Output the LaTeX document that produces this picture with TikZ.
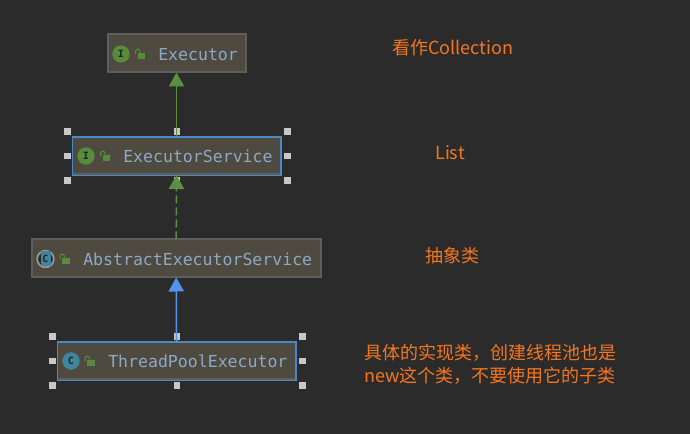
\documentclass[tikz,border=0pt]{standalone}
\usepackage{fontspec}
\setmonofont{DejaVu Sans Mono}
\newfontfamily\cjk{Noto Sans CJK SC}
\usetikzlibrary{arrows.meta,calc}
\definecolor{bgc}{HTML}{2B2B2B}
\definecolor{boxfill}{HTML}{4E4A40}
\definecolor{boxedge}{HTML}{5E5E5E}
\definecolor{selblue}{HTML}{4A88C7}
\definecolor{lineblue}{HTML}{5394EC}
\definecolor{grn}{HTML}{5C8F42}
\definecolor{icong}{HTML}{568C3C}
\definecolor{teal}{HTML}{3E86A0}
\definecolor{txt}{HTML}{8DA9C6}
\definecolor{orng}{HTML}{F5761F}
\definecolor{handle}{HTML}{C8C8C8}
\tikzset{
  x=0.75pt,y=-0.75pt,
  classbox/.style={draw=boxedge,line width=1.5pt,fill=boxfill,minimum height=28.5pt,inner sep=0pt,outer sep=0pt},
  selbox/.style={classbox,draw=selblue,line width=1pt},
  clabel/.style={text=txt,font=\ttfamily\fontsize{12.4}{15}\selectfont,anchor=base west,inner sep=0pt},
  icon/.style={circle,fill=#1,minimum size=13pt,inner sep=0pt,text=bgc!85!black,font=\ttfamily\bfseries\fontsize{7.5}{8}\selectfont},
  lockbody/.style={fill=icong,draw=none,minimum width=5.5pt,minimum height=5pt,inner sep=0pt},
  grip/.style={fill=handle,draw=none,minimum size=5pt,inner sep=0pt},
  note/.style={text=orng,font=\cjk\fontsize{13.5}{19}\selectfont,inner sep=0pt},
  inherit/.style={line width=1.15pt,-{Triangle[length=10.5pt,width=11.5pt]}},
}
\newcommand{\padlock}[2]{%
  \node[lockbody] (#1) at (#2) {};
  \draw[icong,line width=0.8pt] (#1.north west) ++(-2,2) -- ++(0,-3) arc[start angle=180,end angle=360,x radius=2.2,y radius=2.2] -- ++(0,1);
}
\newcommand{\grips}[2]{%
  \node[grip] (#1nw) at ($(#2.north west)+(-5,-5.5)$) {};
  \node[grip] (#1n)  at ($(#2.north)+(0.5,-5.5)$) {};
  \node[grip] (#1ne) at ($(#2.north east)+(6.5,-5.5)$) {};
  \node[grip] (#1w)  at ($(#2.west)+(-5,0)$) {};
  \node[grip] (#1e)  at ($(#2.east)+(6.5,0)$) {};
  \node[grip] (#1sw) at ($(#2.south west)+(-5,5.5)$) {};
  \node[grip] (#1s)  at ($(#2.south)+(0.5,5.5)$) {};
  \node[grip] (#1se) at ($(#2.south east)+(6.5,5.5)$) {};
}
\begin{document}
\begin{tikzpicture}
\useasboundingbox (0,0) rectangle (690,434);
\fill[bgc] (0,0) rectangle (690,434);

% boxes
\node[classbox,minimum width=103.5pt] (ex) at (176.5,53.5) {};
\node[selbox,minimum width=156.5pt] (es) at (176.5,156) {};
\node[classbox,minimum width=216.5pt] (ab) at (176.2,258.5) {};
\node[selbox,minimum width=179pt] (tp) at (176.5,361) {};

% extra bottom line of selected boxes
\draw[boxedge,line width=0.8pt] ($(es.south west)+(1,-1)$) -- ($(es.south east)+(-1,-1)$);
\draw[boxedge,line width=0.8pt] ($(tp.south west)+(1,-1)$) -- ($(tp.south east)+(-1,-1)$);

% selection grips
\grips{g}{es}
\grips{h}{tp}

% connectors
\draw[inherit,grn] (es.north) -- (ex.south);
\draw[grn,line width=1.15pt,dash pattern=on 6pt off 3pt,-{Triangle[length=10.5pt,width=11.5pt]}] (ab.north) -- (es.south);
\draw[inherit,lineblue] (tp.north) -- (ab.south);

% icons
\node[icon=icong] (i1) at (121,54) {I};
\node[icon=icong] (i2) at (86,156) {I};
\node[circle,draw=gray!80,line width=1.3pt,fill=bgc,minimum size=12.5pt,inner sep=0pt] (i3) at (45.5,259) {};
\fill[teal] (40.5,251.5) rectangle (50.5,266.5);
\node[text=bgc!85!black,font=\ttfamily\bfseries\fontsize{7.5}{8}\selectfont,inner sep=0pt] (i3t) at (45.5,259) {C};
\node[icon=teal] (i4) at (71,361) {C};

% locks
\padlock{l1}{141.5,56}
\padlock{l2}{106.5,158}
\padlock{l3}{66,261}
\padlock{l4}{91,363}

% labels
\node[clabel] (t1) at (158,60.7) {Executor};
\node[clabel] (t2) at (123,162.7) {ExecutorService};
\node[clabel] (t3) at (83,265.7) {AbstractExecutorService};
\node[clabel] (t4) at (108,367.7) {ThreadPoolExecutor};

% notes
\node[note,anchor=west] (n1) at (392,48) {看作Collection};
\node[note,anchor=west] (n2) at (435,153) {List};
\node[note,anchor=west] (n3) at (425,256) {抽象类};
\node[note,anchor=west] (n4) at (364,353) {具体的实现类，创建线程池也是};
\node[note,anchor=west] (n5) at (364,376) {new这个类，不要使用它的子类};
\end{tikzpicture}
\end{document}
